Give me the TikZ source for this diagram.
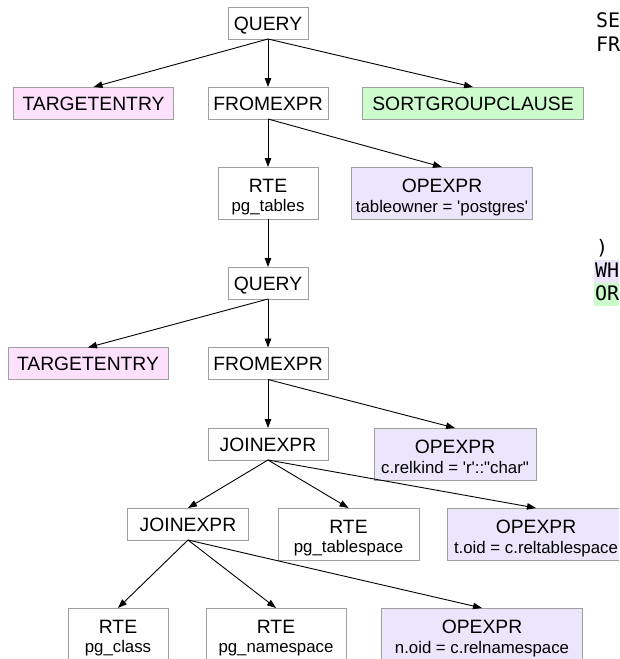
\documentclass[tikz,border=0pt]{standalone}
\usepackage{fontspec}
\setmainfont{Liberation Sans}
\newfontfamily\monof{DejaVu Sans Mono}
\usetikzlibrary{arrows.meta}
\definecolor{pinkc}{RGB}{252,224,252}
\definecolor{greenc}{RGB}{204,252,204}
\definecolor{lavc}{RGB}{236,230,252}
\definecolor{bordc}{RGB}{160,160,160}
\newcommand\mfont{\fontsize{19.3}{19}\selectfont}
\newcommand\sfont{\fontsize{16.8}{19}\selectfont}
\newcommand\sq{\textquotesingle}
\newcommand\dq{\textquotedbl}
\newcommand\oneln[2]{\parbox[c][32pt][t]{#1}{\centering\mfont\rule{0pt}{23pt}#2}}
\newcommand\twoln[3]{\parbox[c][52pt][t]{#1}{\centering\mfont\rule{0pt}{25pt}#2\\{\sfont\rule{0pt}{19pt}#3}}}
\begin{document}
\begin{tikzpicture}[x=1pt,y=-1pt,
  nd/.style={draw=bordc, line width=1pt, inner sep=0pt, outer sep=0pt},
  pinkbox/.style={nd, fill=pinkc},
  greenbox/.style={nd, fill=greenc},
  lavbox/.style={nd, fill=lavc},
  edge/.style={draw=black, line width=0.9pt, -{Triangle[length=9pt,width=6.5pt]}},
  sqltxt/.style={anchor=base west, inner xsep=1.5pt, inner ysep=0pt, font=\monof\fontsize{20}{20}\selectfont, text height=17pt, text depth=6pt}]
\useasboundingbox (0,0) rectangle (619,659);
\clip (0,0) rectangle (619,659);
\fill[white] (0,0) rectangle (619,659);
% level 1
\node[nd] (q1) at (268,23) {\oneln{80pt}{QUERY}};
\node[pinkbox] (te1) at (93.5,103) {\oneln{160pt}{TARGETENTRY}};
\node[nd] (fe1) at (268,103) {\oneln{120pt}{FROMEXPR}};
\node[greenbox] (sg) at (473,103) {\oneln{221pt}{SORTGROUPCLAUSE}};
\node[nd] (rte1) at (268,193) {\twoln{100pt}{RTE}{pg\_tables}};
\node[lavbox] (op1) at (442,193) {\twoln{181pt}{OPEXPR}{tableowner = \sq postgres\sq}};
% level 2
\node[nd] (q2) at (268,283) {\oneln{80pt}{QUERY}};
\node[pinkbox] (te2) at (88,363.5) {\oneln{160pt}{TARGETENTRY}};
\node[nd] (fe2) at (268,363.5) {\oneln{120pt}{FROMEXPR}};
\node[nd] (je1) at (268,444) {\oneln{120pt}{JOINEXPR}};
\node[lavbox] (op2) at (455,454) {\twoln{162pt}{OPEXPR}{c.relkind = \sq r\sq ::\dq char\dq}};
\node[nd] (je2) at (188,524) {\oneln{121pt}{JOINEXPR}};
\node[nd] (rte2) at (348.5,534) {\twoln{141pt}{RTE}{pg\_tablespace}};
\node[lavbox] (op3) at (536,534) {\twoln{178pt}{OPEXPR}{t.oid = c.reltablespace}};
\node[nd] (rte3) at (118,634) {\twoln{100pt}{RTE}{pg\_class}};
\node[nd] (rte4) at (276,634) {\twoln{140pt}{RTE}{pg\_namespace}};
\node[lavbox] (op4) at (482,634) {\twoln{201pt}{OPEXPR}{n.oid = c.relnamespace}};
% edges
\draw[edge] (q1.south) -- (te1.north);
\draw[edge] (q1.south) -- (fe1.north);
\draw[edge] (q1.south) -- (sg.north);
\draw[edge] (fe1.south) -- (rte1.north);
\draw[edge] (fe1.south) -- (op1.north);
\draw[edge] (rte1.south) -- (q2.north);
\draw[edge] (q2.south) -- (te2.north);
\draw[edge] (q2.south) -- (fe2.north);
\draw[edge] (fe2.south) -- (je1.north);
\draw[edge] (fe2.south) -- (op2.north);
\draw[edge] (je1.south) -- (je2.north);
\draw[edge] (je1.south) -- (rte2.north);
\draw[edge] (je1.south) -- (op3.north);
\draw[edge] (je2.south) -- (rte3.north);
\draw[edge] (je2.south) -- (rte4.north);
\draw[edge] (je2.south) -- (op4.north);
% SQL text at right edge
\node[sqltxt] (s1) at (594.5,27) {SE};
\node[sqltxt] (s2) at (594.5,51) {FR};
\node[sqltxt] (s3) at (594.5,254) {)};
\node[sqltxt, fill=lavc] (s4) at (593.5,277) {WH};
\node[sqltxt, fill=greenc] (s5) at (593.5,300) {OR};
\end{tikzpicture}
\end{document}
